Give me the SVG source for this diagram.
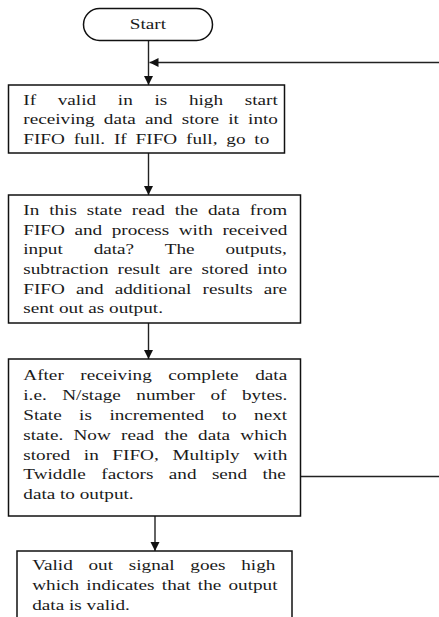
<svg xmlns="http://www.w3.org/2000/svg" width="439" height="617" viewBox="0 0 439 617">
  <style>
    .box { fill: #fff; stroke: #111; stroke-width: 1.5; }
    .wire { fill: none; stroke: #222; stroke-width: 1.4; }
    .t { font-family: "Liberation Serif", "Times New Roman", serif; font-size: 15px; fill: #1a1a1a; }
  </style>
  <defs>
    <marker id="arrow" markerUnits="userSpaceOnUse" markerWidth="10" markerHeight="10" refX="9" refY="4.5" orient="auto">
      <path d="M0,0 L9,4.5 L0,9 z" fill="#111"/>
    </marker>
  </defs>
  <rect width="439" height="617" fill="#fff"/>

  <!-- connectors -->
  <g id="connectors">
    <path class="wire" d="M148.5,41 V85" marker-end="url(#arrow)"/>
    <path class="wire" d="M439,62.5 H149.5" marker-end="url(#arrow)"/>
    <path class="wire" d="M148.5,153 V195" marker-end="url(#arrow)"/>
    <path class="wire" d="M148.5,323 V359" marker-end="url(#arrow)"/>
    <path class="wire" d="M155,516 V551" marker-end="url(#arrow)"/>
    <path class="wire" d="M300.5,476.5 H439"/>
  </g>

  <!-- Start terminal -->
  <g id="start">
    <rect class="box" x="83.5" y="8.5" width="129" height="32" rx="16" ry="16"/>
    <g transform="scale(1.28 1)">
      <text class="t" x="115.6" y="29.5" text-anchor="middle">Start</text>
    </g>
  </g>

  <!-- receive state -->
  <g id="receive">
    <rect class="box" x="8.5" y="85" width="276" height="68"/>
    <g transform="scale(1.28 1)">
      <text class="t" x="18.2" y="105" style="word-spacing:13.2px">If valid in is high start</text>
      <text class="t" x="18.2" y="124.5" style="word-spacing:3.4px">receiving data and store it into</text>
      <text class="t" x="18.2" y="144" style="word-spacing:3.15px">FIFO full. If FIFO full, go to</text>
    </g>
  </g>

  <!-- butterfly state -->
  <g id="process">
    <rect class="box" x="8.5" y="195" width="292" height="128"/>
    <g transform="scale(1.28 1)">
      <text class="t" x="18.2" y="215" style="word-spacing:3.97px">In this state read the data from</text>
      <text class="t" x="18.2" y="234.7" style="word-spacing:3.7px">FIFO and process with received</text>
      <text class="t" x="18.2" y="254.4" style="word-spacing:20.4px">input data? The outputs,</text>
      <text class="t" x="18.2" y="274.1" style="word-spacing:3.25px">subtraction result are stored into</text>
      <text class="t" x="18.2" y="293.8" style="word-spacing:4.9px">FIFO and additional results are</text>
      <text class="t" x="18.2" y="313.5">sent out as output.</text>
    </g>
  </g>

  <!-- twiddle state -->
  <g id="twiddle">
    <rect class="box" x="8.5" y="359" width="292" height="157"/>
    <g transform="scale(1.28 1)">
      <text class="t" x="18.2" y="380" style="word-spacing:9.2px">After receiving complete data</text>
      <text class="t" x="18.2" y="400" style="word-spacing:8.35px">i.e. N/stage number of bytes.</text>
      <text class="t" x="18.2" y="420" style="word-spacing:9.9px">State is incremented to next</text>
      <text class="t" x="18.2" y="439.8" style="word-spacing:4.27px">state. Now read the data which</text>
      <text class="t" x="18.2" y="459.6" style="word-spacing:6.9px">stored in FIFO, Multiply with</text>
      <text class="t" x="18.2" y="479.4" style="word-spacing:8.25px">Twiddle factors and send the</text>
      <text class="t" x="18.2" y="499.2">data to output.</text>
    </g>
  </g>

  <!-- output valid -->
  <g id="valid-out">
    <rect class="box" x="17" y="551" width="275" height="80"/>
    <g transform="scale(1.28 1)">
      <text class="t" x="25.2" y="570" style="word-spacing:8.55px">Valid out signal goes high</text>
      <text class="t" x="25.2" y="590" style="word-spacing:1.9px">which indicates that the output</text>
      <text class="t" x="25.2" y="610">data is valid.</text>
    </g>
  </g>
</svg>
